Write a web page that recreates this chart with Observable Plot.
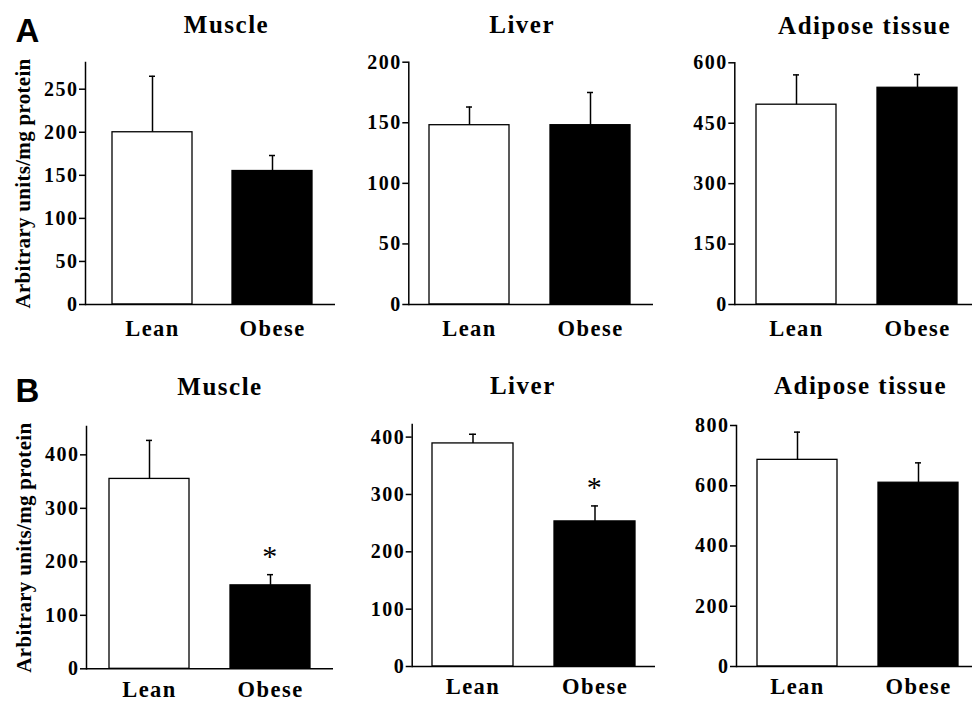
<!DOCTYPE html>
<html>
<head>
<meta charset="utf-8">
<script src="https://cdn.jsdelivr.net/npm/d3@7"></script>
<script src="https://cdn.jsdelivr.net/npm/@observablehq/plot@0.6"></script>
<style>
  html, body { margin: 0; padding: 0; background: #fff; }
  #chart { position: relative; width: 972px; height: 703px; overflow: hidden; background: #fff; }
  .panel { position: absolute; }
  .panel svg text { letter-spacing: 1.5px; }
  .panel svg g[aria-label="y-axis label"] text { letter-spacing: 0.3px; font-size: 21px; }
</style>
</head>
<body>
<div id="chart"></div>
<script>
// ---------- data ----------
const groups = ["Lean", "Obese"];
const tissues = ["Muscle", "Liver", "Adipose tissue"];
const panelLetters = ["A", "B"];
const yLabel = "Arbitrary units/mg protein";

// Panel A: means and SE (Lean, Obese)
const muscleA = [200, 155];
const muscleAErr = [65, 18];
const liverA = [148, 148];
const liverAErr = [15, 27];
const adiposeA = [496, 538];
const adiposeAErr = [74, 33];

// Panel B: means and SE (Lean, Obese)
const muscleB = [355, 156];
const muscleBErr = [72, 20];
const liverB = [389, 253];
const liverBErr = [16, 27];
const adiposeB = [686, 610];
const adiposeBErr = [92, 66];

// significance markers (*)
const sigMuscleB = ["Obese"];
const sigLiverB = ["Obese"];

// y-axis tick labels and axis extents
const ticksMuscleA = [0, 50, 100, 150, 200, 250];
const ticksLiverA = [0, 50, 100, 150, 200];
const ticksAdiposeA = [0, 150, 300, 450, 600];
const ticksMuscleB = [0, 100, 200, 300, 400];
const ticksLiverB = [0, 100, 200, 300, 400];
const ticksAdiposeB = [0, 200, 400, 600, 800];
const yTopA = [281, 200, 600];
const yTopB = [453, 422, 800];

// ---------- build panels ----------
const rows = (means, errs) => groups.map((g, i) => ({group: g, mean: means[i], err: errs[i]}));

const panels = [
  {title: tissues[0], letter: panelLetters[0], data: rows(muscleA, muscleAErr), ticks: ticksMuscleA, yTop: yTopA[0], sig: []},
  {title: tissues[1], letter: null, data: rows(liverA, liverAErr), ticks: ticksLiverA, yTop: yTopA[1], sig: []},
  {title: tissues[2], letter: null, data: rows(adiposeA, adiposeAErr), ticks: ticksAdiposeA, yTop: yTopA[2], sig: []},
  {title: tissues[0], letter: panelLetters[1], data: rows(muscleB, muscleBErr), ticks: ticksMuscleB, yTop: yTopB[0], sig: sigMuscleB},
  {title: tissues[1], letter: null, data: rows(liverB, liverBErr), ticks: ticksLiverB, yTop: yTopB[1], sig: sigLiverB},
  {title: tissues[2], letter: null, data: rows(adiposeB, adiposeBErr), ticks: ticksAdiposeB, yTop: yTopB[2], sig: []}
];

// ---------- layout (page positions, margins) ----------
const layout = [
  {left: 0,   top: 0,   width: 335, height: 349, mL: 85,   mT: 62,   mB: 45,   inL: 26.7, inR: 22.7, tdx: 16,  tdy: -30, ldy: -21, xPad: 16},
  {left: 340, top: 0,   width: 313, height: 349, mL: 68.3, mT: 61.7, mB: 45,   inL: 20,   inR: 21.7, tdx: -9,  tdy: -29, xPad: 16},
  {left: 660, top: 0,   width: 312, height: 349, mL: 74.3, mT: 62.3, mB: 45,   inL: 21.4, inR: 14.7, tdx: 11,  tdy: -29, xPad: 16},
  {left: 0,   top: 360, width: 333, height: 343, mL: 86,   mT: 66,   mB: 34.7, inL: 22.7, inR: 22.3, tdx: 10,  tdy: -32, ldy: -24.5, xPad: 12},
  {left: 340, top: 360, width: 315, height: 343, mL: 71.7, mT: 64,   mB: 37,   inL: 20,   inR: 19.7, tdx: -11, tdy: -31, xPad: 12},
  {left: 660, top: 360, width: 312, height: 343, mL: 76,   mT: 65,   mB: 37,   inL: 20.3, inR: 13,   tdx: 6,   tdy: -32, xPad: 12}
];

const serif = "'Liberation Serif', 'Times New Roman', Times, serif";
const sans = "'Liberation Sans', Arial, Helvetica, sans-serif";

const chart = document.getElementById("chart");

panels.forEach((p, i) => {
  const L = layout[i];
  const col = i % 3;
  const marks = [
    Plot.barY(p.data, {x: "group", y: "mean", fill: "group", stroke: "black", strokeWidth: 1.3}),
    Plot.ruleX(p.data, {x: "group", y1: "mean", y2: d => d.mean + d.err, stroke: "black", strokeWidth: 1.5}),
    Plot.tickY(p.data, {x: "group", y: d => d.mean + d.err, stroke: "black", strokeWidth: 1.5, insetLeft: 37, insetRight: 37}),
    Plot.text(p.data.filter(d => p.sig.includes(d.group)), {
      x: "group", y: d => d.mean + d.err, text: () => "*",
      dy: -8.5, lineAnchor: "bottom", fontSize: 30, fontWeight: "normal", fontFamily: serif, fill: "black"
    }),
    Plot.ruleY([0], {stroke: "black", strokeWidth: 1.5}),
    Plot.frame({anchor: "left", stroke: "black", strokeWidth: 1.5}),
    Plot.axisY({
      ticks: p.ticks, tickSize: 6, tickPadding: 1, strokeWidth: 1.5, fontSize: 20,
      label: col === 0 ? yLabel : null, labelAnchor: "center", labelOffset: 70, labelArrow: "none"
    }),
    Plot.axisX({tickSize: 0, tickPadding: L.xPad, fontSize: 22.5, label: null}),
    Plot.text([p.title], {
      frameAnchor: "top", dx: L.tdx, dy: L.tdy, lineAnchor: "bottom",
      fontSize: 25, fontWeight: "bold", fontFamily: serif, fill: "black"
    })
  ];
  if (p.letter) {
    marks.push(Plot.text([p.letter], {
      frameAnchor: "top-left", dx: 15 - L.mL, dy: L.ldy, lineAnchor: "bottom", textAnchor: "start",
      fontSize: 33, fontWeight: "bold", fontFamily: sans, fill: "black"
    }));
  }
  const svg = Plot.plot({
    width: L.width,
    height: L.height,
    marginLeft: L.mL,
    marginRight: 0,
    marginTop: L.mT,
    marginBottom: L.mB,
    style: {
      background: "transparent",
      overflow: "visible",
      fontFamily: serif,
      fontWeight: "bold",
      color: "black",
      maxWidth: "none"
    },
    x: {domain: groups, paddingInner: 0.335, paddingOuter: 0, insetLeft: L.inL, insetRight: L.inR},
    y: {domain: [0, p.yTop]},
    color: {domain: groups, range: ["white", "black"]},
    marks
  });
  const div = document.createElement("div");
  div.className = "panel";
  div.style.left = L.left + "px";
  div.style.top = L.top + "px";
  div.appendChild(svg);
  chart.appendChild(div);
});
</script>
</body>
</html>
